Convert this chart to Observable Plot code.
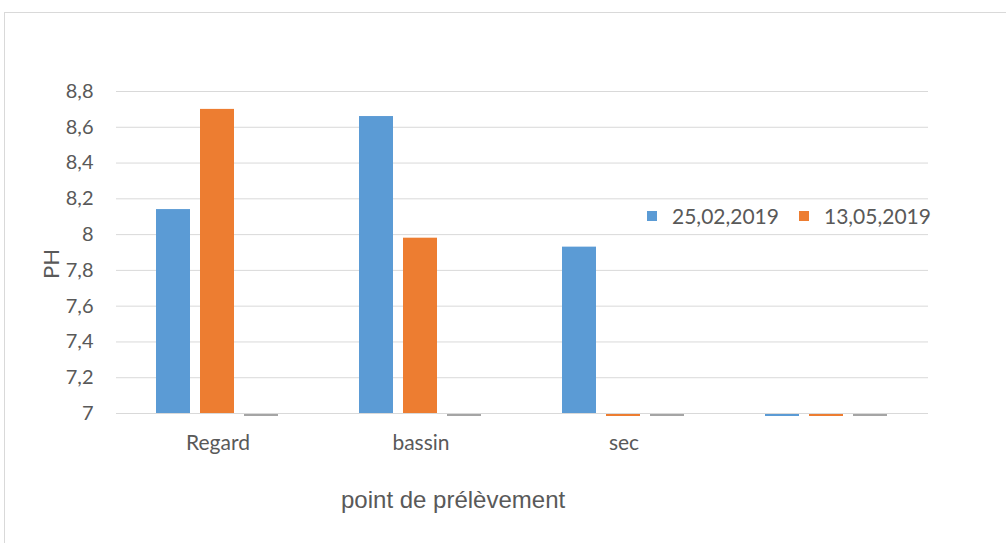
<!DOCTYPE html>
<html>
<head>
<meta charset="utf-8">
<script src="https://cdn.jsdelivr.net/npm/d3@7"></script>
<script src="https://cdn.jsdelivr.net/npm/@observablehq/plot@0.6"></script>
<style>
  html, body { margin: 0; padding: 0; background: #fff; }
  #wrap { position: relative; width: 1006px; height: 543px; overflow: hidden; font-family: Lato, "Open Sans", sans-serif; }
  #frame { position: absolute; left: 4px; top: 12px; width: 1100px; height: 600px; border-left: 1px solid #d9d9d9; border-top: 1px solid #d9d9d9; pointer-events: none; }
  #legend { position: absolute; left: 647px; top: 203px; display: flex; align-items: center; font-size: 21px; color: #595959; white-space: nowrap; }
  #legend .sw { width: 10px; height: 10px; display: inline-block; margin-right: 15px; }
  #legend .item { display: flex; align-items: center; margin-right: 20px; }
  #xtitle { position: absolute; left: 341px; top: 486px; font-family: "Liberation Sans", Arial, sans-serif; font-size: 24px; color: #595959; white-space: nowrap; }
  #ytitle { position: absolute; left: 50px; top: 264px; transform: translate(-50%, -50%) rotate(-90deg); font-size: 22px; color: #595959; white-space: nowrap; }
  svg { position: absolute; left: 0; top: 0; }
</style>
</head>
<body>
<div id="wrap"></div>
<script>
// ---- data ----
const categories = ["Regard", "bassin", "sec", ""];
const seriesNames = ["25,02,2019", "13,05,2019", "Série3"];
const seriesColors = ["#5b9bd5", "#ed7d31", "#a5a5a5"];
const serie1 = [8.14, 8.66, 7.93, 0];
const serie2 = [8.70, 7.98, 0, 0];
const serie3 = [0, 0, 0, 0];
const yTicks = [7, 7.2, 7.4, 7.6, 7.8, 8, 8.2, 8.4, 8.6, 8.8];
const yMin = 7, yMax = 8.8;

// ---- table ----
const allSeries = [serie1, serie2, serie3];
const rows = [];
categories.forEach((c, i) => {
  allSeries.forEach((s, j) => {
    rows.push({cat: c, series: seriesNames[j], value: s[i]});
  });
});
const bars = rows.filter(d => d.value > yMin);
const flats = rows.filter(d => d.value <= yMin);

const fmt = d => String(d).replace(".", ",");

const chart = Plot.plot({
  width: 1006,
  height: 543,
  marginLeft: 115,
  marginRight: 78,
  marginTop: 91,
  marginBottom: 130,
  style: {fontFamily: "Lato, 'Open Sans', sans-serif", color: "#595959", background: "transparent"},
  fx: {domain: categories, padding: 0},
  x: {domain: seriesNames, paddingInner: 0.22, paddingOuter: 0.867, axis: null},
  y: {domain: [yMin, yMax]},
  color: {domain: seriesNames, range: seriesColors},
  marks: [
    Plot.ruleY(yTicks, {stroke: "#d9d9d9", strokeWidth: 1}),
    Plot.barY(bars, {fx: "cat", x: "series", y1: yMin, y2: "value", fill: "series"}),
    Plot.tickY(flats, {fx: "cat", x: "series", y: d => Math.max(d.value, yMin), stroke: "series", strokeWidth: 2, dy: 1.5}),
    Plot.axisY({ticks: yTicks, tickFormat: fmt, tickSize: 0, tickPadding: 23, fontSize: 20, label: null, fill: "#595959"}),
    Plot.axisFx({anchor: "bottom", tickSize: 0, tickPadding: 22, fontSize: 21, label: null, fill: "#595959"})
  ]
});

const wrap = document.getElementById("wrap");
const frame = document.createElement("div");
frame.id = "frame";
wrap.appendChild(frame);
wrap.appendChild(chart);

const legend = document.createElement("div");
legend.id = "legend";
[0, 1].forEach(j => {
  const it = document.createElement("div");
  it.className = "item";
  const sw = document.createElement("span");
  sw.className = "sw";
  sw.style.background = seriesColors[j];
  const tx = document.createElement("span");
  tx.textContent = seriesNames[j];
  it.appendChild(sw);
  it.appendChild(tx);
  legend.appendChild(it);
});
wrap.appendChild(legend);

const yt = document.createElement("div");
yt.id = "ytitle";
yt.textContent = "PH";
wrap.appendChild(yt);

const xt = document.createElement("div");
xt.id = "xtitle";
xt.textContent = "point de prélèvement";
wrap.appendChild(xt);
</script>
</body>
</html>
